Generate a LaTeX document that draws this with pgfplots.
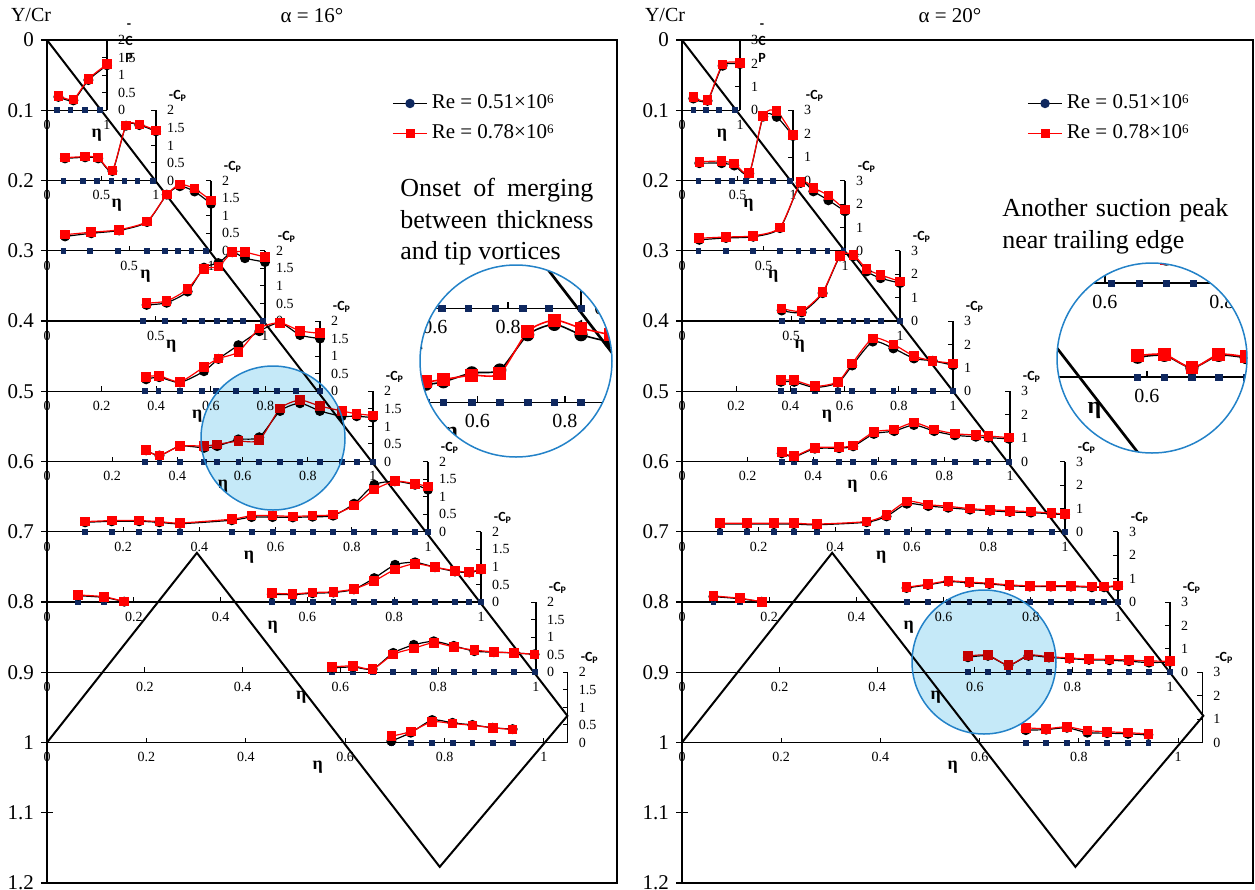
\documentclass[border=0pt]{standalone}
\usepackage{fontspec}
\setmainfont{Liberation Serif}
\newfontfamily\calib{Carlito}
\usepackage{pgfplots}
\pgfplotsset{compat=1.18}
\usepackage{pgfplotstable}
\definecolor{navy}{RGB}{15,40,95}
\definecolor{bluec}{RGB}{35,130,200}
\definecolor{bluef}{RGB}{197,233,248}

% ---------- data: eta, navy-tap eta, Re=0.51e6 (b), Re=0.78e6 (r) ----------
\pgfplotstableread{
eta n b r
0.19 0.17 0.38 0.41
0.44 0.39 0.28 0.31
0.69 0.63 0.86 0.89
1.00 0.88 1.28 1.31
}\LA
\pgfplotstableread{
eta n b r
0.165 0.15 0.63 0.65
0.35 0.33 0.66 0.68
0.47 0.46 0.63 0.65
0.60 0.59 0.27 0.29
0.725 0.71 1.56 1.57
0.847 0.83 1.58 1.60
1.00 0.975 1.40 1.43
}\LB
\pgfplotstableread{
eta n b r
0.11 0.10 0.41 0.46
0.27 0.26 0.50 0.53
0.44 0.43 0.58 0.60
0.61 0.61 0.82 0.84
0.73 0.72 1.60 1.60
0.81 0.80 1.84 1.89
0.90 0.88 1.69 1.77
1.00 0.97 1.34 1.43
}\LC
\pgfplotstableread{
eta n b r
0.457 0.44 0.46 0.51
0.549 0.54 0.52 0.57
0.645 0.63 0.84 0.91
0.72 0.71 1.52 1.48
0.786 0.78 1.65 1.55
0.85 0.84 1.96 1.96
0.908 0.90 1.79 1.96
1.00 0.99 1.68 1.82
}\LD
\pgfplotstableread{
eta n b r
0.363 0.359 0.34 0.41
0.411 0.408 0.40 0.44
0.487 0.487 0.25 0.27
0.575 0.567 0.57 0.69
0.628 0.619 0.92 0.93
0.701 0.692 1.31 1.12
0.778 0.766 1.71 1.79
0.853 0.841 1.95 1.95
0.927 0.912 1.60 1.72
1.00 1.00 1.50 1.65
}\LE
\pgfplotstableread{
eta n b r
0.304 0.30 0.32 0.32
0.345 0.345 0.17 0.17
0.408 0.408 0.44 0.44
0.482 0.482 0.39 0.44
0.522 0.522 0.44 0.49
0.587 0.587 0.63 0.58
0.651 0.651 0.69 0.61
0.715 0.715 1.44 1.51
0.776 0.776 1.66 1.75
0.837 0.837 1.44 1.58
0.904 0.904 1.29 1.44
0.95 0.95 1.29 1.36
1.00 1.00 1.25 1.31
}\LF
\pgfplotstableread{
eta n b r
0.10 0.10 0.27 0.29
0.17 0.17 0.30 0.32
0.242 0.242 0.30 0.32
0.295 0.295 0.27 0.29
0.349 0.349 0.23 0.25
0.485 0.485 0.33 0.36
0.537 0.537 0.42 0.46
0.592 0.592 0.42 0.46
0.645 0.645 0.41 0.44
0.697 0.697 0.43 0.46
0.751 0.751 0.46 0.49
0.806 0.806 0.80 0.75
0.859 0.859 1.34 1.20
0.913 0.913 1.44 1.44
0.966 0.966 1.34 1.37
1.00 1.00 1.20 1.29
}\LG
\pgfplotstableread{
eta n b r
0.072 0.072 0.18 0.20
0.132 0.132 0.13 0.15
0.178 0.178 0.01 0.01
nan nan nan nan
0.518 0.518 0.22 0.25
0.566 0.566 0.21 0.23
0.612 0.612 0.25 0.27
0.66 0.66 0.27 0.29
0.707 0.707 0.36 0.37
0.754 0.754 0.68 0.60
0.802 0.802 1.06 0.93
0.848 0.848 1.13 1.09
0.894 0.894 0.99 0.99
0.94 0.94 0.87 0.89
0.973 0.973 0.84 0.85
1.00 1.00 0.92 0.94
}\LH
\pgfplotstableread{
eta n b r
0.583 0.583 0.12 0.15
0.626 0.626 0.15 0.18
0.666 0.666 0.09 0.09
0.708 0.708 0.55 0.51
0.75 0.75 0.78 0.68
0.791 0.791 0.88 0.84
0.832 0.832 0.75 0.72
0.874 0.874 0.60 0.63
0.914 0.914 0.57 0.58
0.955 0.955 0.55 0.55
0.997 0.997 0.51 0.51
}\LI
\pgfplotstableread{
eta n b r
0.693 0.693 0.04 0.18
0.732 0.732 0.28 0.31
0.775 0.775 0.64 0.59
0.816 0.816 0.56 0.54
0.856 0.856 0.50 0.49
0.897 0.897 0.42 0.42
0.937 0.937 0.38 0.37
}\LJ
% ---------- alpha = 20 ----------
\pgfplotstableread{
eta n b r
0.195 0.195 0.50 0.57
0.44 0.41 0.40 0.43
0.70 0.64 1.90 1.96
1.00 0.91 1.97 2.03
}\RA
\pgfplotstableread{
eta n b r
0.156 0.147 0.74 0.80
0.357 0.327 0.74 0.83
0.471 0.447 0.64 0.72
0.606 0.577 0.30 0.33
0.732 0.703 2.73 2.76
0.853 0.817 2.72 2.97
1.00 0.973 1.90 1.94
}\RB
\pgfplotstableread{
eta n b r
0.106 0.10 0.47 0.54
0.27 0.27 0.55 0.59
0.437 0.437 0.60 0.64
0.601 0.60 0.97 1.00
0.728 0.714 2.90 2.93
0.806 0.802 2.54 2.69
0.898 0.892 2.16 2.36
1.00 0.99 1.69 1.76
}\RC
\pgfplotstableread{
eta n b r
0.457 0.457 0.45 0.54
0.549 0.549 0.37 0.43
0.645 0.645 1.19 1.23
0.725 0.725 2.76 2.79
0.786 0.786 2.76 2.83
0.847 0.847 2.12 2.22
0.911 0.911 1.83 1.97
1.00 1.00 1.62 1.69
}\RD
\pgfplotstableread{
eta n b r
0.365 0.365 0.40 0.47
0.414 0.414 0.40 0.47
0.491 0.491 0.16 0.21
0.575 0.575 0.36 0.40
0.628 0.628 1.10 1.19
0.704 0.704 2.12 2.26
0.78 0.78 1.83 2.00
0.856 0.856 1.40 1.50
0.925 0.925 1.30 1.30
1.00 1.00 1.11 1.19
}\RE
\pgfplotstableread{
eta n b r
0.304 0.304 0.35 0.40
0.342 0.342 0.20 0.23
0.405 0.405 0.55 0.59
0.479 0.479 0.57 0.61
0.522 0.522 0.65 0.69
0.585 0.585 1.18 1.26
0.647 0.647 1.30 1.37
0.707 0.707 1.56 1.66
0.769 0.769 1.30 1.37
0.832 0.832 1.12 1.19
0.896 0.896 1.06 1.13
0.934 0.934 1.02 1.09
0.997 0.997 0.97 1.02
}\RF
\pgfplotstableread{
eta n b r
0.099 0.099 0.33 0.37
0.17 0.17 0.33 0.37
0.24 0.24 0.33 0.37
0.292 0.292 0.33 0.37
0.352 0.352 0.30 0.33
0.482 0.482 0.41 0.44
0.534 0.534 0.66 0.73
0.587 0.587 1.20 1.30
0.643 0.643 1.10 1.16
0.695 0.695 1.03 1.09
0.752 0.752 0.95 0.99
0.804 0.804 0.90 0.94
0.856 0.856 0.85 0.90
0.911 0.911 0.82 0.86
0.965 0.965 0.77 0.80
1.00 1.00 0.73 0.76
}\RG
\pgfplotstableread{
eta n b r
0.072 0.072 0.23 0.26
0.133 0.133 0.14 0.16
0.183 0.183 0.01 0.01
nan nan nan nan
0.515 0.515 0.60 0.63
0.564 0.564 0.73 0.76
0.611 0.611 0.87 0.90
0.659 0.659 0.82 0.85
0.705 0.705 0.77 0.80
0.751 0.751 0.70 0.73
0.798 0.798 0.66 0.69
0.846 0.846 0.66 0.69
0.892 0.892 0.66 0.69
0.94 0.94 0.63 0.66
0.968 0.968 0.63 0.66
1.00 1.00 0.67 0.70
}\RH
\pgfplotstableread{
eta n b r
0.586 0.586 0.64 0.69
0.627 0.627 0.70 0.73
0.669 0.669 0.30 0.30
0.71 0.71 0.70 0.73
0.752 0.752 0.63 0.66
0.794 0.794 0.58 0.61
0.834 0.834 0.53 0.56
0.876 0.876 0.51 0.55
0.916 0.916 0.47 0.52
0.957 0.957 0.41 0.48
1.00 1.00 0.44 0.47
}\RI
\pgfplotstableread{
eta n b r
0.693 0.693 0.53 0.63
0.734 0.734 0.55 0.59
0.776 0.776 0.63 0.67
0.817 0.817 0.42 0.51
0.857 0.857 0.40 0.46
0.899 0.899 0.37 0.42
0.94 0.94 0.33 0.37
}\RJ

\pgfplotsset{
 nv/.style={only marks, mark=square*, mark size=1.2pt, color=navy, mark options={fill=navy}},
 blk/.style={black, line width=0.6pt, smooth, tension=0.4, mark=*, mark size=2.2pt, mark options={fill=black}},
 rd/.style={red, line width=0.6pt, smooth, tension=0.4, mark=square*, mark size=2.1pt, mark options={fill=red}},
 nvB/.style={nv, mark size=1.6pt},
 blkB/.style={blk, line width=0.8pt, mark size=2.9pt},
 rdB/.style={rd, line width=0.8pt, mark size=2.8pt},
 stbase/.style={scale only axis, anchor=south west, ymin=0, xmin=0, enlargelimits=false, clip=false,
   axis x line=bottom, axis y line=right, xtick align=inside, ytick align=inside,
   unbounded coords=jump, xlabel={η}, ylabel={-C\textsubscript{P}},
   /pgf/number format/assume math mode=true},
 st/.style={stbase, height=35.1pt, axis line style={-, line width=0.65pt}, major tick length=2.5pt,
   tick style={black, line width=0.5pt}, tick label style={font=\fontsize{7}{8}\selectfont},
   xticklabel style={yshift=-1.5pt}, yticklabel style={xshift=2pt},
   every axis x label/.style={anchor=center, yshift=-12.5pt, font=\fontsize{9}{9}\selectfont\bfseries},
   every axis y label/.style={at={(axis description cs:1,1)}, anchor=center, xshift=11pt, yshift=7pt, align=center, font=\calib\bfseries\fontsize{7}{8.5}\selectfont}},
 stL/.style={st, ymax=2, ytick={0,0.5,1,1.5,2}},
 stR/.style={st, ymax=3, ytick={0,1,2,3}},
 stB/.style={stbase, height=47.07pt, axis line style={-, line width=0.85pt}, major tick length=3.4pt,
   tick style={black,line width=0.7pt}, tick label style={font=\fontsize{10}{11}\selectfont},
   xticklabel style={yshift=-2.5pt}, yticklabel style={xshift=3pt},
   every axis x label/.style={anchor=center, yshift=-16.5pt, font=\fontsize{12}{12}\selectfont\bfseries},
   every axis y label/.style={at={(axis description cs:1,1)}, anchor=center, xshift=15pt, yshift=9.5pt, align=center, font=\calib\bfseries\fontsize{9.5}{11}\selectfont}},
 stLB/.style={stB, ymax=2, ytick={0,0.5,1,1.5,2}},
 stRB/.style={stB, ymax=3, ytick={0,1,2,3}},
 mainax/.style={scale only axis, anchor=south west, height=421.5pt, xmin=0, xmax=1, ymin=0, ymax=1.2,
   y dir=reverse, xtick=\empty, ytick={0,0.1,0.2,0.3,0.4,0.5,0.6,0.7,0.8,0.9,1,1.1,1.2},
   ytick pos=left, tick align=center, major tick length=6pt, tick style={black, line width=0.6pt},
   axis line style={line width=0.7pt}, yticklabel style={font=\fontsize{10.5}{12}\selectfont},
   /pgf/number format/assume math mode=true, legend cell align=left,
   legend style={draw=none, fill=none, anchor=north west, font=\fontsize{10.5}{12.6}\selectfont, row sep=2.5pt, inner sep=0pt}},
}

% #1 style, #2 x(pt), #3 y(pt), #4 width(pt), #5 xmax, #6 xticks, #7 eta-label pos, #8 table, #9 plot-style suffix
\newcommand\st[9]{%
\begin{axis}[#1, at={(#2pt,#3pt)}, width=#4pt, xmax=#5, xtick={#6},
  xlabel style={at={(axis description cs:#7,0)}}]
\addplot[nv#9] table[x=n, y expr=0]{#8};
\addplot[blk#9] table[x=eta, y=b]{#8};
\addplot[rd#9] table[x=eta, y=r]{#8};
\end{axis}}

\newcommand\planform{\addplot[black, line width=1pt, forget plot] coordinates {(0,0) (0.913,0.962) (0.689,1.177) (0.263,0.730) (0,1)};}
\newcommand\sixth{\raisebox{0.55ex}{\fontsize{6.5}{6.5}\selectfont 6}}

\begin{document}
\begin{tikzpicture}
\path[use as bounding box] (0pt,0pt) rectangle (627.5pt,-445pt);

% ================= LEFT PANEL (alpha = 16) =================
\begin{axis}[mainax, at={(23.5pt,-441.5pt)}, width=285pt, legend style={at={(0.605,0.94)}}]
\addlegendimage{black, line width=0.7pt, mark=*, mark size=2pt, mark options={fill=navy, draw=navy}}
\addlegendentry{Re = 0.51×10\sixth}
\addlegendimage{red, line width=0.7pt, mark=square*, mark size=1.9pt, mark options={fill=red}}
\addlegendentry{Re = 0.78×10\sixth}
\planform
\end{axis}

\st{stL, ylabel={-\\C\\P}, ylabel style={yshift=-8.5pt}}{23.5}{-55.1}{30}{1}{0,1}{0.83}{\LA}{}
\st{stL}{23.5}{-90.25}{54.5}{1}{0,0.5,1}{0.64}{\LB}{}
\st{stL}{23.5}{-125.4}{82}{1}{0,0.5,1}{0.60}{\LC}{}
\st{stL}{23.5}{-160.5}{109}{1}{0,0.5,1}{0.57}{\LD}{}
\st{stL}{23.5}{-195.6}{136.5}{1}{0,0.2,0.4,0.6,0.8,1}{0.55}{\LE}{}
\st{stL}{23.5}{-230.75}{163}{1}{0,0.2,0.4,0.6,0.8,1}{0.54}{\LF}{}
\st{stL}{23.5}{-265.9}{190.5}{1}{0,0.2,0.4,0.6,0.8,1}{0.53}{\LG}{}
\st{stL}{23.5}{-301}{217}{1}{0,0.2,0.4,0.6,0.8,1}{0.52}{\LH}{}
\st{stL}{23.5}{-336.1}{244.5}{1}{0,0.2,0.4,0.6,0.8,1}{0.52}{\LI}{}
\st{stL}{23.5}{-371.25}{260.4}{1.048}{0,0.2,0.4,0.6,0.8,1}{0.52}{\LJ}{}

\begin{scope}[blend mode=multiply]
\fill[bluef] (136.5pt,-219pt) circle (36pt);
\end{scope}
\draw[bluec, line width=0.75pt] (136.5pt,-219pt) circle (36pt);

\fill[white] (258pt,-180.5pt) circle (48pt);
\begin{scope}
\clip (258pt,-180.5pt) circle (48pt);
\begin{axis}[hide axis, scale only axis, anchor=south west, at={(107.7pt,-483.65pt)}, width=381.9pt, height=564.8pt, xmin=0, xmax=1, ymin=0, ymax=1.2, y dir=reverse]
\addplot[black, line width=1.34pt] coordinates {(0,0) (0.913,0.962) (0.689,1.177) (0.263,0.730) (0,1)};
\end{axis}
\st{stLB}{107.7}{-154.2}{182.9}{1}{0,0.2,0.4,0.6,0.8,1}{0.55}{\LE}{B}
\st{stLB}{107.7}{-201.25}{218.4}{1}{0,0.2,0.4,0.6,0.8,1}{0.54}{\LF}{B}
\end{scope}
\draw[bluec, line width=0.75pt] (258pt,-180.5pt) circle (48pt);

\node[font=\fontsize{10}{12}\selectfont] at (15.5pt,-7.5pt) {Y/Cr};
\node[font=\fontsize{10.5}{12}\selectfont] at (156pt,-8pt) {α = 16°};
\begin{scope}[every node/.style={anchor=base west, inner sep=0pt, font=\fontsize{13}{15}\selectfont}]
\node at (200pt,-98pt) {\makebox[96.5pt][s]{Onset of merging}};
\node at (200pt,-114pt) {\makebox[96.5pt][s]{between thickness}};
\node at (200pt,-129.5pt) {and tip vortices};
\end{scope}

% ================= RIGHT PANEL (alpha = 20) =================
\begin{axis}[mainax, at={(341pt,-441.5pt)}, width=285.5pt, legend style={at={(0.604,0.94)}}]
\addlegendimage{black, line width=0.7pt, mark=*, mark size=2pt, mark options={fill=navy, draw=navy}}
\addlegendentry{Re = 0.51×10\sixth}
\addlegendimage{red, line width=0.7pt, mark=square*, mark size=1.9pt, mark options={fill=red}}
\addlegendentry{Re = 0.78×10\sixth}
\planform
\end{axis}

\st{stR, ylabel={-\\C\\P}, ylabel style={yshift=-8.5pt}}{341}{-55.1}{29}{1}{0,1}{0.69}{\RA}{}
\st{stR}{341}{-90.25}{55.5}{1}{0,0.5,1}{0.60}{\RB}{}
\st{stR}{341}{-125.4}{81.5}{1}{0,0.5,1}{0.56}{\RC}{}
\st{stR}{341}{-160.5}{109}{1}{0,0.5,1}{0.54}{\RD}{}
\st{stR}{341}{-195.6}{135.5}{1}{0,0.2,0.4,0.6,0.8,1}{0.535}{\RE}{}
\st{stR}{341}{-230.75}{164}{1}{0,0.2,0.4,0.6,0.8,1}{0.52}{\RF}{}
\st{stR}{341}{-265.9}{191.5}{1}{0,0.2,0.4,0.6,0.8,1}{0.52}{\RG}{}
\st{stR}{341}{-301}{218}{1}{0,0.2,0.4,0.6,0.8,1}{0.52}{\RH}{}
\st{stR}{341}{-336.1}{244}{1}{0,0.2,0.4,0.6,0.8,1}{0.52}{\RI}{}
\st{stR}{341}{-371.25}{260.2}{1.049}{0,0.2,0.4,0.6,0.8,1}{0.52}{\RJ}{}

\begin{scope}[blend mode=multiply]
\fill[bluef] (492pt,-331pt) circle (36pt);
\end{scope}
\draw[bluec, line width=0.75pt] (492pt,-331pt) circle (36pt);

\fill[white] (576pt,-179pt) circle (47.5pt);
\begin{scope}
\clip (576pt,-179pt) circle (47.5pt);
\begin{axis}[hide axis, scale only axis, anchor=south west, at={(377.2pt,-329.85pt)}, width=382.6pt, height=564.8pt, xmin=0, xmax=1, ymin=0, ymax=1.2, y dir=reverse]
\addplot[black, line width=1.34pt] coordinates {(0,0) (0.913,0.962) (0.689,1.177) (0.263,0.730) (0,1)};
\end{axis}
\st{stRB}{377.2}{-141.6}{292.1}{1}{0,0.2,0.4,0.6,0.8,1}{0.52}{\RH}{B}
\st{stRB}{377.2}{-188.65}{327}{1}{0,0.2,0.4,0.6,0.8,1}{0.52}{\RI}{B}
\end{scope}
\draw[bluec, line width=0.75pt] (576pt,-179pt) circle (47.5pt);

\node[font=\fontsize{10}{12}\selectfont] at (332.5pt,-7.5pt) {Y/Cr};
\node[font=\fontsize{10.5}{12}\selectfont] at (475pt,-8pt) {α = 20°};
\begin{scope}[every node/.style={anchor=base west, inner sep=0pt, font=\fontsize{13}{15}\selectfont}]
\node at (501pt,-108pt) {\makebox[113pt][s]{Another suction peak}};
\node at (501pt,-124pt) {near trailing edge};
\end{scope}
\end{tikzpicture}
\end{document}
